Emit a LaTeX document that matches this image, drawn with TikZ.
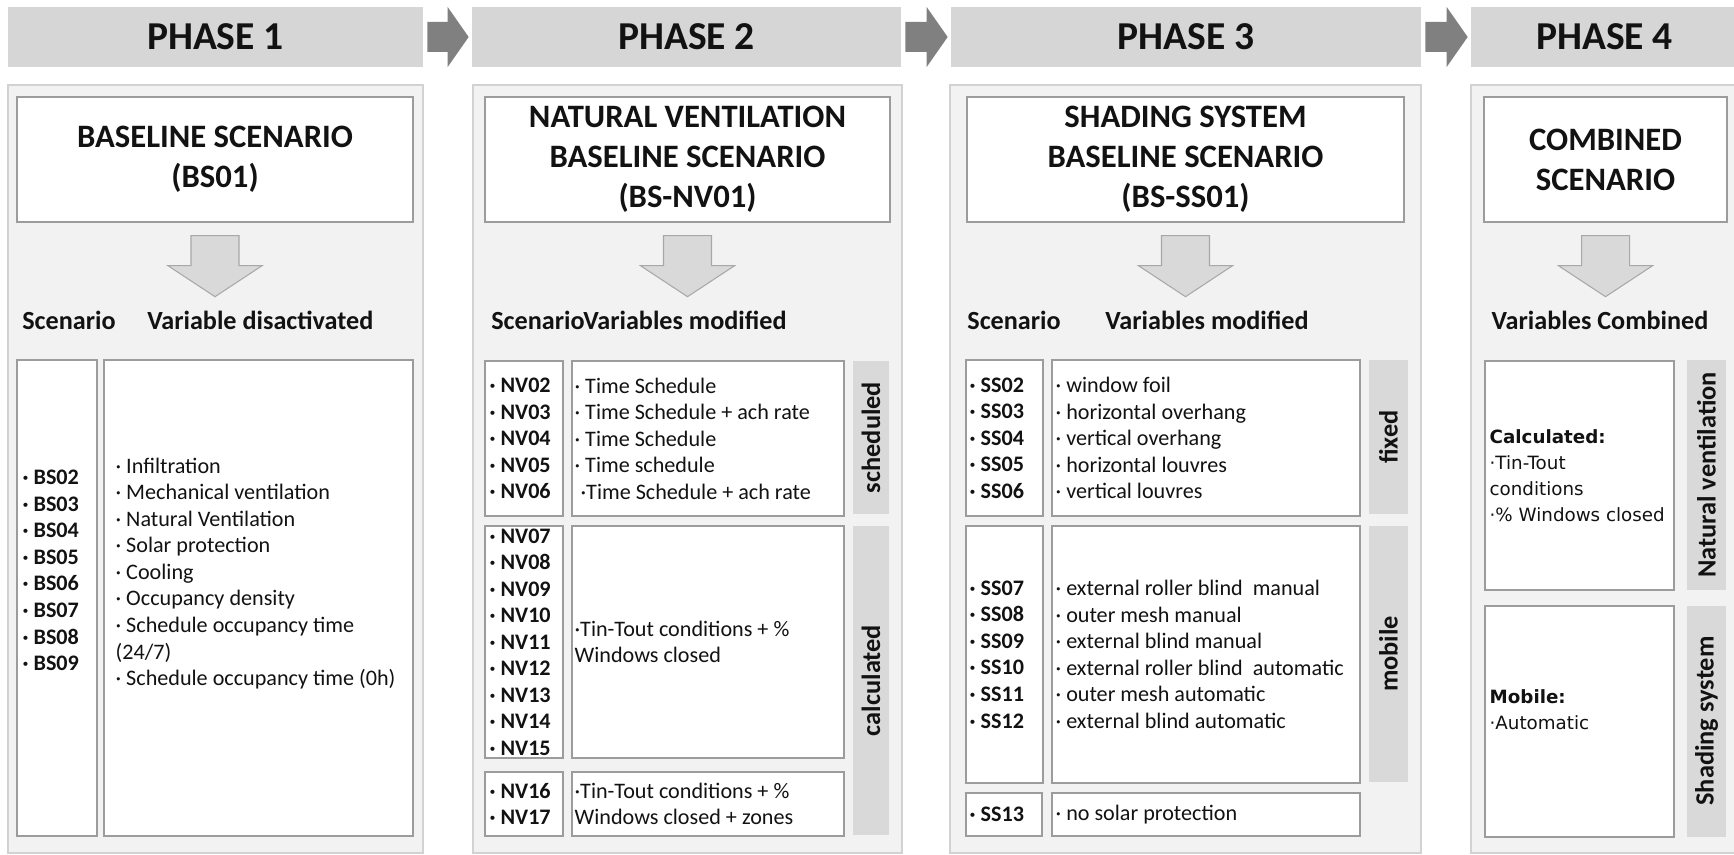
\documentclass[tikz,border=0pt]{standalone}
\usepackage{fontspec}
\setmainfont{Carlito}
\newfontfamily\verdfont{DejaVu Sans}
\usepackage{tikz}
\usetikzlibrary{positioning,calc}

\definecolor{headgray}{HTML}{D6D6D6}
\definecolor{panelgray}{HTML}{F2F2F2}
\definecolor{panelline}{HTML}{D2D2D2}
\definecolor{boxline}{HTML}{9C9C9C}
\definecolor{arrgray}{HTML}{808080}
\definecolor{downfill}{HTML}{D9D9D9}
\definecolor{downline}{HTML}{A8A8A8}
\definecolor{barfill}{HTML}{D9D9D9}
\definecolor{inkblack}{HTML}{121212}

\begin{document}
\begin{tikzpicture}[
    text=inkblack,
    head/.style   = {fill=headgray, minimum height=1.2cm, inner sep=0,
                     font=\fontsize{22.5}{26}\selectfont\bfseries},
    panel/.style  = {draw=panelline, fill=panelgray, line width=0.6pt,
                     minimum height=15.36cm, inner sep=0},
    ttl/.style    = {draw=boxline, fill=white, line width=0.8pt, align=center,
                     minimum height=2.5cm, inner sep=0,
                     font=\fontsize{18.6}{22.8}\selectfont\bfseries},
    sub/.style    = {anchor=base west, inner sep=0,
                     font=\fontsize{14.9}{17}\selectfont\bfseries},
    cell/.style   = {draw=boxline, fill=white, line width=0.8pt, inner sep=0},
    bar/.style    = {fill=barfill, rotate=90, inner sep=0, minimum height=0.78cm,
                     font=\fontsize{15}{18}\selectfont\bfseries},
    lst/.style    = {align=left, inner sep=0, font=\fontsize{12.6}{15.1}\selectfont},
    ids/.style    = {lst, font=\fontsize{12.6}{15.1}\selectfont\bfseries},
    cmb/.style    = {align=left, inner sep=0,
                     font=\verdfont\fontsize{10.4}{14.8}\selectfont},
    phasearr/.style = {fill=arrgray},
    downarr/.style  = {fill=downfill, draw=downline, line width=0.6pt},
]

\path[use as bounding box, fill=white] (0,0) rectangle (34.68,-17.10);

%% ── Panels ────────────────────────────────────────────────────────────────
\node[panel, minimum width=8.30cm] (p1) at (4.31,-9.38) {};
\node[panel, minimum width=8.58cm] (p2) at (13.75,-9.38) {};
\node[panel, minimum width=9.42cm] (p3) at (23.71,-9.38) {};
\node[panel, minimum width=5.34cm] (p4) at (32.09,-9.38) {};

%% ── Phase headers ─────────────────────────────────────────────────────────
\node[head, minimum width=8.30cm] (h1) at (4.31,-0.74)  {PHASE 1};
\node[head, minimum width=8.58cm] (h2) at (13.73,-0.74) {PHASE 2};
\node[head, minimum width=9.40cm] (h3) at (23.72,-0.74) {PHASE 3};
\node[head, minimum width=5.34cm] (h4) at (32.09,-0.74) {PHASE 4};

\foreach \a/\b in {h1/h2,h2/h3,h3/h4}
  \fill[phasearr] ($(\a.east)+(0.08,0.30)$) -- ($(\b.west)+(-0.48,0.30)$)
     -- ($(\b.west)+(-0.48,0.60)$) -- ($(\b.west)+(-0.06,0)$)
     -- ($(\b.west)+(-0.48,-0.60)$) -- ($(\b.west)+(-0.48,-0.30)$)
     -- ($(\a.east)+(0.08,-0.30)$) -- cycle;

%% ── Scenario titles ───────────────────────────────────────────────────────
\node[ttl, minimum width=7.92cm] (t1) at (4.30,-3.19)
  {BASELINE SCENARIO\\(BS01)};
\node[ttl, minimum width=8.10cm] (t2) at (13.75,-3.19)
  {NATURAL VENTILATION\\BASELINE SCENARIO\\(BS-NV01)};
\node[ttl, minimum width=8.74cm] (t3) at (23.71,-3.19)
  {SHADING SYSTEM\\BASELINE SCENARIO\\(BS-SS01)};
\node[ttl, minimum width=4.86cm] (t4) at (32.11,-3.19)
  {COMBINED\\SCENARIO};

\foreach \t in {t1,t2,t3,t4}
  \draw[downarr] ($(\t.south)+(-0.48,-0.26)$) -- ++(0.96,0) -- ++(0,-0.60)
     -- ++(0.46,0) -- ($(\t.south)+(0,-1.48)$) -- ($(\t.south)+(-0.94,-0.86)$)
     -- ++(0.46,0) -- cycle;

%% ── Column headings ───────────────────────────────────────────────────────
\node[sub] (sc1) at (0.44,-6.60)  {Scenario};
\node[sub] (vd1) at (2.94,-6.60)  {Variable disactivated};
\node[sub] (sv2) at (9.82,-6.60)  {ScenarioVariables modified};
\node[sub] (sc3) at (19.34,-6.60) {Scenario};
\node[sub] (vm3) at (22.10,-6.60) {Variables modified};
\node[sub, anchor=base] (vc4) at (32.00,-6.60) {Variables Combined};

%% ── Phase 1 ──────────────────────────────────────────────────────────────
\node[cell, minimum width=1.60cm, minimum height=9.52cm] (s1) at (1.14,-11.96) {};
\node[cell, minimum width=6.18cm, minimum height=9.52cm] (v1) at (5.17,-11.96) {};
\node[ids, right=0.12cm of s1.west, yshift=0.55cm] (s1t)
  {· BS02\\· BS03\\· BS04\\· BS05\\· BS06\\· BS07\\· BS08\\· BS09};
\node[lst, right=0.24cm of v1.west, yshift=0.49cm] (v1t)
  {· Infiltration\\· Mechanical ventilation\\· Natural Ventilation\\
   · Solar protection\\· Cooling\\· Occupancy density\\
   · Schedule occupancy time\\(24/7)\\· Schedule occupancy time (0h)};

%% ── Phase 2 ──────────────────────────────────────────────────────────────
\node[cell, minimum width=1.56cm, minimum height=3.10cm] (n1) at (10.48,-8.77) {};
\node[cell, minimum width=5.44cm, minimum height=3.10cm] (m1) at (14.16,-8.77) {};
\node[cell, minimum width=1.56cm, minimum height=4.64cm] (n2) at (10.48,-12.84) {};
\node[cell, minimum width=5.44cm, minimum height=4.64cm] (m2) at (14.16,-12.84) {};
\node[cell, minimum width=1.56cm, minimum height=1.28cm] (n3) at (10.48,-16.08) {};
\node[cell, minimum width=5.44cm, minimum height=1.28cm] (m3) at (14.16,-16.08) {};

\node[ids, right=0.10cm of n1.west] (n1t) {· NV02\\· NV03\\· NV04\\· NV05\\· NV06};
\node[ids, right=0.10cm of n2.west] (n2t)
  {· NV07\\· NV08\\· NV09\\· NV10\\· NV11\\· NV12\\· NV13\\· NV14\\· NV15};
\node[ids, right=0.10cm of n3.west] (n3t) {· NV16\\· NV17};
\node[lst, right=0.06cm of m1.west] (m1t)
  {· Time Schedule\\· Time Schedule + ach rate\\· Time Schedule\\
   · Time schedule\\\hspace*{0.12cm}·Time Schedule + ach rate};
\node[lst, right=0.06cm of m2.west] (m2t) {·Tin-Tout conditions + \%\\Windows closed};
\node[lst, right=0.06cm of m3.west] (m3t) {·Tin-Tout conditions + \%\\Windows closed + zones};

\node[bar, minimum width=3.06cm, minimum height=0.72cm] (b21) at (17.42,-8.75)  {scheduled};
\node[bar, minimum width=6.18cm, minimum height=0.72cm] (b22) at (17.42,-13.61) {calculated};

%% ── Phase 3 ──────────────────────────────────────────────────────────────
\node[cell, minimum width=1.54cm, minimum height=3.12cm] (q1) at (20.09,-8.76) {};
\node[cell, minimum width=6.16cm, minimum height=3.12cm] (r1) at (24.12,-8.76) {};
\node[cell, minimum width=1.54cm, minimum height=5.14cm] (q2) at (20.09,-13.09) {};
\node[cell, minimum width=6.16cm, minimum height=5.14cm] (r2) at (24.12,-13.09) {};
\node[cell, minimum width=1.52cm, minimum height=0.86cm] (q3) at (20.08,-16.29) {};
\node[cell, minimum width=6.16cm, minimum height=0.86cm] (r3) at (24.12,-16.29) {};

\node[ids, right=0.08cm of q1.west] (q1t) {· SS02\\· SS03\\· SS04\\· SS05\\· SS06};
\node[ids, right=0.08cm of q2.west] (q2t)
  {· SS07\\· SS08\\· SS09\\· SS10\\· SS11\\· SS12};
\node[ids, right=0.08cm of q3.west] (q3t) {· SS13};
\node[lst, right=0.08cm of r1.west] (r1t)
  {· window foil\\· horizontal overhang\\· vertical overhang\\
   · horizontal louvres\\· vertical louvres};
\node[lst, right=0.08cm of r2.west] (r2t)
  {· external roller blind~~manual\\· outer mesh manual\\· external blind manual\\
   · external roller blind~~automatic\\· outer mesh automatic\\· external blind automatic};
\node[lst, right=0.08cm of r3.west] (r3t) {· no solar protection};

\node[bar, minimum width=3.08cm] (b31) at (27.77,-8.74)  {fixed};
\node[bar, minimum width=5.12cm] (b32) at (27.77,-13.08) {mobile};

%% ── Phase 4 ──────────────────────────────────────────────────────────────
\node[cell, minimum width=3.78cm, minimum height=4.58cm] (c1) at (31.59,-9.51) {};
\node[cell, minimum width=3.78cm, minimum height=4.62cm] (c2) at (31.59,-14.43) {};
\node[cmb, right=0.10cm of c1.west] (c1t)
  {\textbf{Calculated:}\\·Tin-Tout\\conditions\\·\% Windows closed};
\node[cmb, right=0.10cm of c2.west, yshift=0.24cm] (c2t)
  {\textbf{Mobile:}\\·Automatic};

\node[bar, minimum width=4.58cm] (b41) at (34.13,-9.50)  {Natural ventilation};
\node[bar, minimum width=4.62cm] (b42) at (34.13,-14.42) {Shading system};

\end{tikzpicture}
\end{document}
